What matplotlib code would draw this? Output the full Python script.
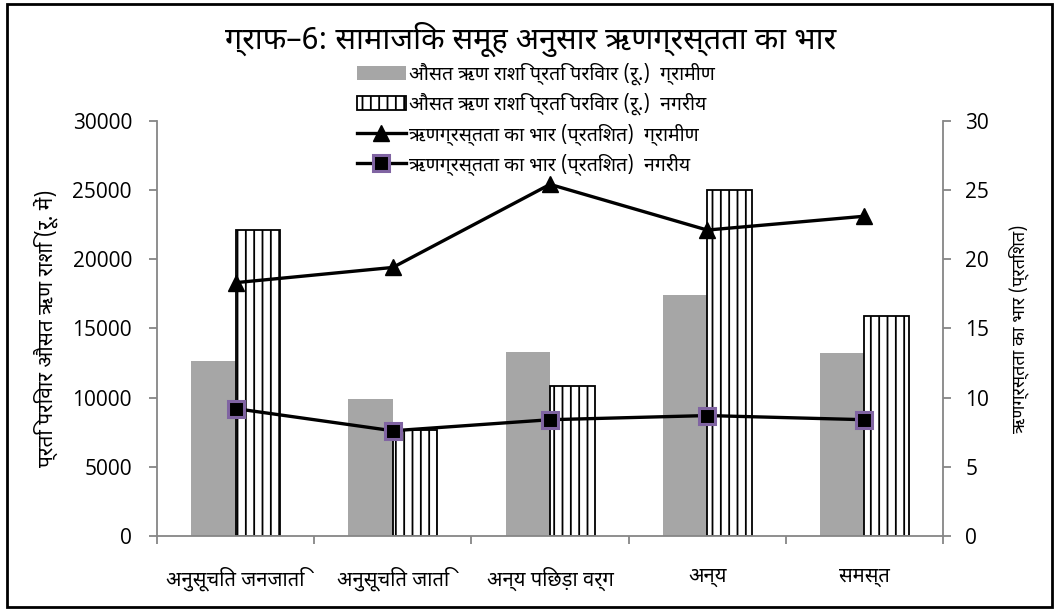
import matplotlib
matplotlib.use('Agg')
import matplotlib.pyplot as plt
import numpy as np
from matplotlib import font_manager
from matplotlib.ft2font import FT2Font
from matplotlib.patches import Patch, Rectangle
from matplotlib.lines import Line2D

# categories and values
groups = ['अनुसूचित जनजाति', 'अनुसूचित जाति', 'अन्य पिछड़ा वर्ग', 'अन्य', 'समस्त']
debt_rural = [12650, 9930, 13320, 17380, 13200]
debt_urban = [22080, 7640, 10840, 25030, 15880]
burden_rural = [18.3, 19.4, 25.4, 22.1, 23.1]
burden_urban = [9.2, 7.6, 8.4, 8.7, 8.4]

series_names = ['औसत ऋण राशि प्रति परिवार (रू.)  ग्रामीण',
                'औसत ऋण राशि प्रति परिवार (रू.)  नगरीय',
                'ऋणग्रस्तता का भार (प्रतिशत)  ग्रामीण',
                'ऋणग्रस्तता का भार (प्रतिशत)  नगरीय']
title = 'ग्राफ–6: सामाजिक समूह अनुसार ऋणग्रस्तता का भार'
ylabel_left = 'प्रति परिवार औसत ऋण राशि (रू. में)'
ylabel_right = 'ऋणग्रस्तता का भार (प्रतिशत)'


def devanagari_family():
    # look for any installed font that carries Devanagari glyphs
    found = []
    for fe in font_manager.fontManager.ttflist:
        try:
            cmap = FT2Font(fe.fname).get_charmap()
        except Exception:
            continue
        if 0x0915 in cmap:
            found.append(fe.name)
    for pref in ['Noto Sans Devanagari', 'Lohit Devanagari', 'Mangal', 'FreeSans']:
        if pref in found:
            return pref
    return found[0] if found else 'DejaVu Sans'


deva = devanagari_family()
hfont = [deva, 'DejaVu Sans']
nfont = ['Open Sans', 'DejaVu Sans']

plt.rcParams['hatch.linewidth'] = 1.3
axis_grey = '#868686'

fig = plt.figure(figsize=(10.62, 6.09), dpi=100)
ax = fig.add_axes([0.1478, 0.1199, 0.7402, 0.6819])
ax2 = ax.twinx()

x = np.arange(len(groups))
w = 0.283
ax.bar(x - w / 2, debt_rural, w, color='#A6A6A6', zorder=2)
ax.bar(x + w / 2, debt_urban, w, color='white', edgecolor='black',
       hatch='||', linewidth=1.3, zorder=2)

ax2.plot(x, burden_rural, color='black', lw=2.4, marker='^', ms=11,
         mfc='black', mec='black', zorder=3)
ax2.plot(x, burden_urban, color='black', lw=2.4, marker='s', ms=11,
         mfc='black', mec='#8064A2', mew=2.2, zorder=3)

ax.set_xlim(-0.5, len(groups) - 0.5)
ax.set_ylim(0, 30000)
ax2.set_ylim(0, 30)
ax.set_yticks(np.arange(0, 30001, 5000))
ax2.set_yticks(np.arange(0, 31, 5))
ax.set_xticks(np.arange(-0.5, len(groups), 1.0))
ax.set_xticks(x, minor=True)
ax.set_xticklabels([])
ax.set_xticklabels(groups, minor=True, fontsize=14.5, family=hfont)
ax.tick_params(axis='x', which='minor', length=0, pad=22)
ax.tick_params(axis='x', which='major', length=6, color=axis_grey, width=1.3)

for a in (ax, ax2):
    for s in a.spines.values():
        s.set_visible(False)
ax.spines['left'].set_visible(True)
ax.spines['bottom'].set_visible(True)
ax2.spines['right'].set_visible(True)
for s in (ax.spines['left'], ax.spines['bottom'], ax2.spines['right']):
    s.set_color(axis_grey)
    s.set_linewidth(1.3)

ax.tick_params(axis='y', length=6, color=axis_grey, width=1.3, pad=12)
ax2.tick_params(axis='y', length=6, color=axis_grey, width=1.3, pad=10)
for lab in ax.get_yticklabels() + ax2.get_yticklabels():
    lab.set_family(nfont)
    lab.set_fontsize(15)

ax.set_ylabel(ylabel_left, family=hfont, fontsize=15, fontweight='bold', labelpad=10)
ax2.set_ylabel(ylabel_right, family=hfont, fontsize=13, fontweight='bold', labelpad=14)

fig.text(0.5, 0.935, title, ha='center', va='center', family=hfont,
         fontsize=22, fontweight='bold')

handles = [
    Patch(facecolor='#A6A6A6', edgecolor='none'),
    Patch(facecolor='white', edgecolor='black', hatch='||', linewidth=1.3),
    Line2D([], [], color='black', lw=2.4, marker='^', ms=11),
    Line2D([], [], color='black', lw=2.4, marker='s', ms=11, mfc='black',
           mec='#8064A2', mew=2.2),
]
fig.legend(handles, series_names, loc='upper left',
           bbox_to_anchor=(0.329, 0.91), frameon=False,
           prop={'family': hfont, 'size': 14}, handlelength=2.5,
           handletextpad=0.15, labelspacing=0.4, borderaxespad=0)

# outer frame around the whole chart
fig.patches.append(Rectangle((0.007, 0.004), 0.984, 0.99, transform=fig.transFigure,
                             fill=False, edgecolor='black', linewidth=2))

fig.savefig('out.png', dpi=100)
